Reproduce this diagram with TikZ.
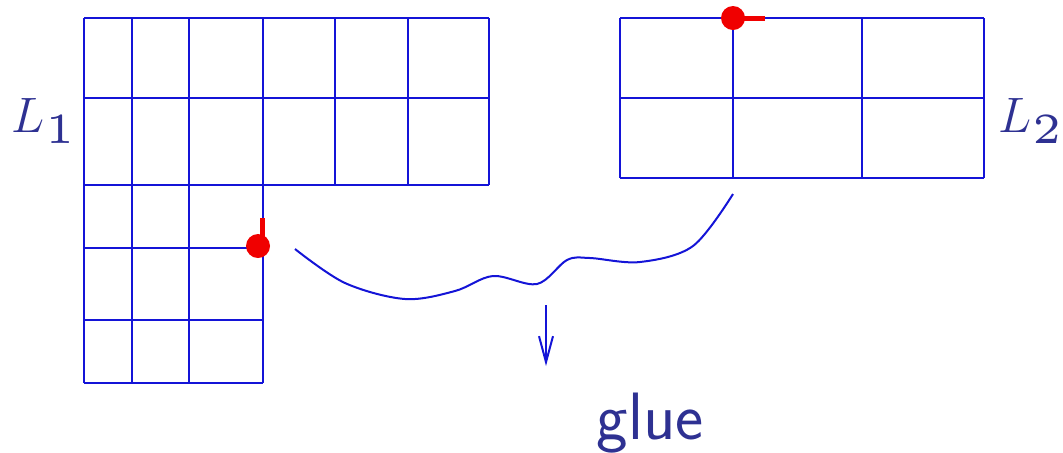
\documentclass[tikz,border=0pt]{standalone}
\usetikzlibrary{arrows.meta}
\definecolor{gridblue}{RGB}{20,20,215}
\definecolor{txtblue}{RGB}{46,49,146}
\definecolor{dotred}{RGB}{240,0,0}
\newcommand{\subidx}[1]{\raisebox{-5.5pt}{\scalebox{4.3}{\fontsize{5}{6}\selectfont #1}}}
\begin{document}
\begin{tikzpicture}[x=0.5pt,y=-0.5pt,
  gridline/.style={draw=gridblue,line width=1pt},
  wire/.style={draw=gridblue,line width=1pt},
  reddot/.style={fill=dotred},
  redtick/.style={draw=dotred,line width=2.5pt},
  lbl/.style={text=txtblue,inner sep=0pt,font=\fontsize{25}{30}\selectfont},
  gluelbl/.style={text=txtblue,inner sep=0pt,font=\sffamily\fontsize{33.5}{38}\selectfont}]
\useasboundingbox (0,0) rectangle (1063,452);
% L1 grid: top part
\foreach \x in {84,132,189,263,335,408,489} \draw[gridline] (\x,18) -- (\x,185);
\foreach \y in {18,98,185} \draw[gridline] (84,\y) -- (489,\y);
% L1 grid: bottom part
\foreach \x in {84,132,189,263} \draw[gridline] (\x,185) -- (\x,383);
\foreach \y in {248,320,383} \draw[gridline] (84,\y) -- (263,\y);
% L2 grid
\foreach \x in {620,733,862,984} \draw[gridline] (\x,18) -- (\x,178);
\foreach \y in {18,98,178} \draw[gridline] (620,\y) -- (984,\y);
% red markers
\coordinate (p1) at (262,248);
\coordinate (p2) at (733,18);
\draw[redtick] (p1) -- ++(0,-30);
\fill[reddot] (258,246) circle[radius=6pt];
\draw[redtick] (p2) -- ++(32,0);
\fill[reddot] (p2) circle[radius=6pt];
% labels
\node[lbl,anchor=base west] (L1) at (11.5,132) {$L$\subidx{1}};
\node[lbl,anchor=base west] (L2) at (998.5,132) {$L$\subidx{2}};
% glue curve
\coordinate (c0) at (295,249);
\coordinate (c1) at (733,194);
\draw[wire] plot[smooth,tension=0.55] coordinates {(c0) (345,283) (405,299) (455,291) (493,276) (537,284) (567,260) (590,258) (640,262) (693,246) (c1)};
% arrow and text
\coordinate (a0) at (546,305);
\coordinate (a1) at (546,366);
\draw[wire,-{Straight Barb[length=13pt,width=7pt]}] (a0) -- (a1);
\node[gluelbl,anchor=base] (glue) at (650,439) {glue};
\end{tikzpicture}
\end{document}
